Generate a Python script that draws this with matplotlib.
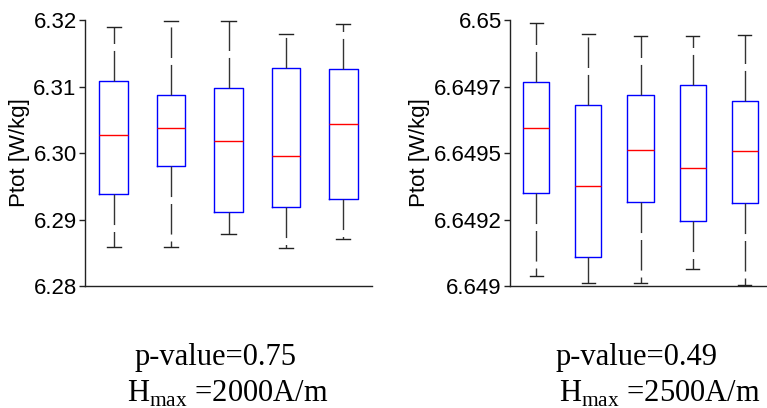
import matplotlib
matplotlib.use("Agg")
import matplotlib.pyplot as plt

# ---- data ----
positions = [1, 2, 3, 4, 5]

left_whislo = [6.2858, 6.2859, 6.28787, 6.28567, 6.28712]
left_q1     = [6.2938, 6.2980, 6.29118, 6.29193, 6.29303]
left_med    = [6.3027, 6.3037, 6.30175, 6.29960, 6.30436]
left_q3     = [6.3109, 6.30867, 6.30972, 6.31273, 6.31258]
left_whishi = [6.3190, 6.3199, 6.3198, 6.31784, 6.3194]
left_ticks = [6.28, 6.29, 6.30, 6.31, 6.32]
left_ticklabels = ["6.28", "6.29", "6.30", "6.31", "6.32"]

right_whislo = [6.649038, 6.649010, 6.649010, 6.649065, 6.649005]
right_q1     = [6.649350, 6.649108, 6.649316, 6.649246, 6.649311]
right_med    = [6.649593, 6.649376, 6.649510, 6.649442, 6.649508]
right_q3     = [6.649766, 6.649682, 6.649717, 6.649757, 6.649697]
right_whishi = [6.649990, 6.649949, 6.649941, 6.649941, 6.649945]
right_ticks = [6.649, 6.64925, 6.6495, 6.64975, 6.65]
right_ticklabels = ["6.649", "6.6492", "6.6495", "6.6497", "6.65"]

ylabel = "Ptot [W/kg]"
left_caption = ["p-value=0.75", r"H$_{\mathregular{max}}$ =2000A/m"]
right_caption = ["p-value=0.49", r"H$_{\mathregular{max}}$ =2500A/m"]

plt.rcParams['font.family'] = ['Liberation Sans', 'DejaVu Sans']

fig = plt.figure(figsize=(7.67, 4.08), dpi=100)
ax1 = fig.add_axes([85/767, 1-286/408, 287/767, 266/408])
ax2 = fig.add_axes([510/767, 1-286/408, 261/767, 266/408])


def draw(ax, lo, q1, med, q3, hi, ticks, ticklabels, ylim):
    stats = []
    for a, b, c, d, e in zip(lo, q1, med, q3, hi):
        stats.append(dict(whislo=a, q1=b, med=c, q3=d, whishi=e, fliers=[]))
    ax.bxp(stats, positions=positions, widths=0.5, capwidths=0.25,
           showfliers=False,
           boxprops=dict(color='#0000ff', linewidth=1.0),
           medianprops=dict(color='#ff0000', linewidth=1.0),
           whiskerprops=dict(color='#333333', linewidth=1.0, linestyle=(0, (22, 5))),
           capprops=dict(color='#222222', linewidth=1.0))
    ax.set_xlim(0.5, 5.5)
    ax.set_ylim(*ylim)
    ax.set_yticks(ticks)
    ax.set_yticklabels(ticklabels)
    ax.set_xticks([])
    for s in ['top', 'right']:
        ax.spines[s].set_visible(False)
    for s in ['left', 'bottom']:
        ax.spines[s].set_color('#222222')
        ax.spines[s].set_linewidth(1.0)
    ax.tick_params(axis='y', direction='out', length=4, width=1, color='#222222',
                   labelsize=16, pad=2)
    ax.set_ylabel(ylabel, fontsize=16, labelpad=2)


draw(ax1, left_whislo, left_q1, left_med, left_q3, left_whishi,
     left_ticks, left_ticklabels, (6.28, 6.32))
draw(ax2, right_whislo, right_q1, right_med, right_q3, right_whishi,
     right_ticks, right_ticklabels, (6.649, 6.65))
ax1.yaxis.set_label_coords(-0.19, 0.5)
ax2.yaxis.set_label_coords(-0.306, 0.5)

serif = ['Liberation Serif', 'DejaVu Serif']
fs = 22
fig.text(216/767, 1-365/408, left_caption[0], fontsize=fs, family=serif,
         ha='center', va='baseline')
fig.text(228/767, 1-402/408, left_caption[1], fontsize=fs, family=serif,
         ha='center', va='baseline')
fig.text(637/767, 1-365/408, right_caption[0], fontsize=fs, family=serif,
         ha='center', va='baseline')
fig.text(660/767, 1-402/408, right_caption[1], fontsize=fs, family=serif,
         ha='center', va='baseline')

fig.savefig("out.png", dpi=100)
